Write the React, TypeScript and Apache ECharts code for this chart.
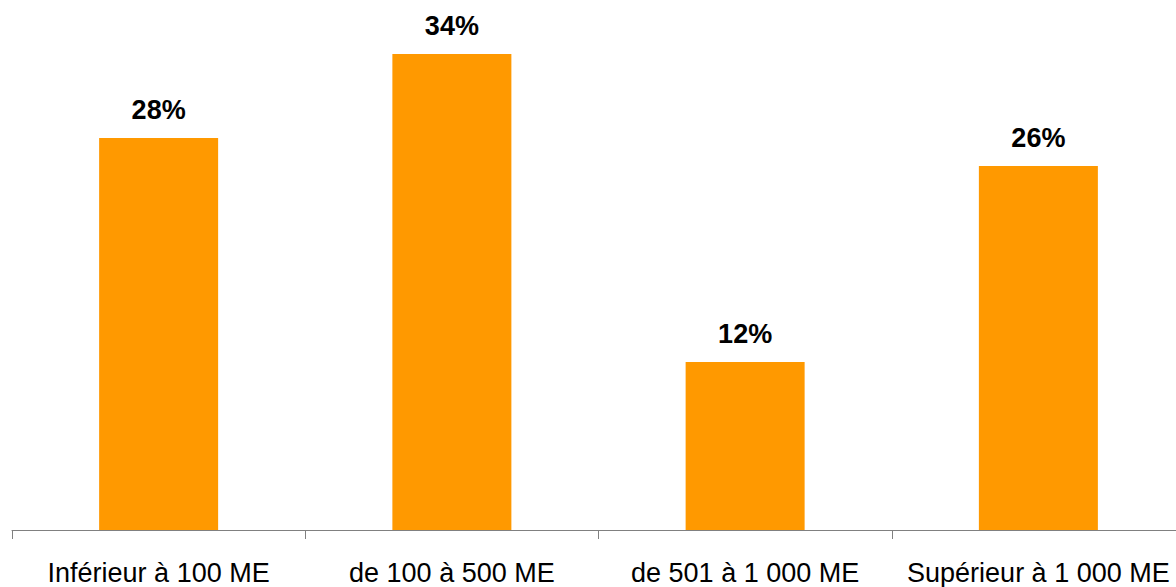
import React, { useEffect, useRef } from "react";
import * as echarts from "echarts";

const categories = ["Inférieur à 100 ME", "de 100 à 500 ME", "de 501 à 1 000 ME", "Supérieur à 1 000 ME"];
const values = [28, 34, 12, 26];

export default function App() {
  const ref = useRef<HTMLDivElement>(null);
  useEffect(() => {
    if (!ref.current) return;
    const chart = echarts.init(ref.current, null, { renderer: "svg" });
    chart.setOption({
      animation: false,
      backgroundColor: "#ffffff",
      textStyle: { fontFamily: "'Liberation Sans', Arial, sans-serif" },
      grid: { left: 12, right: 0, top: 26, bottom: 57, containLabel: false },
      xAxis: {
        type: "category",
        data: categories,
        axisLine: { lineStyle: { color: "#808080", width: 1 } },
        axisTick: { show: true, length: 9, lineStyle: { color: "#808080" } },
        axisLabel: { color: "#000000", fontSize: 27, margin: 29, interval: 0, fontFamily: "'Liberation Sans', Arial, sans-serif" },
      },
      yAxis: {
        type: "value",
        min: 0,
        max: 36,
        show: false,
        splitLine: { show: false },
      },
      series: [
        {
          type: "bar",
          data: values,
          barWidth: 119,
          itemStyle: { color: "#FF9900" },
          label: {
            show: true,
            position: "top",
            distance: 15,
            formatter: "{c}%",
            color: "#000000",
            fontSize: 27,
            fontWeight: "bold",
            fontFamily: "'Liberation Sans', Arial, sans-serif",
          },
        },
      ],
    });
    return () => chart.dispose();
  }, []);
  return (
    <div style={{ width: 1176, height: 587, position: "absolute", left: 0, top: 0, overflow: "hidden" }}>
      <div ref={ref} style={{ width: 1185, height: 587, position: "absolute", left: 0, top: 0 }} />
    </div>
  );
}
